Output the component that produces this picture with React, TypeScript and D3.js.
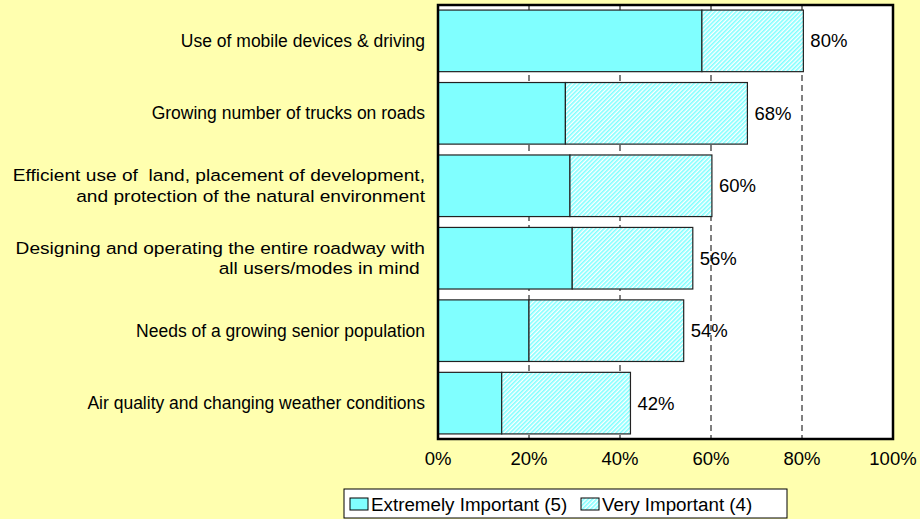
import React from "react";
import * as d3 from "d3";

const categories: string[][] = [
  ["Use of mobile devices & driving"],
  ["Growing number of trucks on roads"],
  ["Efficient use of  land, placement of development,", "and protection of the natural environment"],
  ["Designing and operating the entire roadway with", "all users/modes in mind "],
  ["Needs of a growing senior population"],
  ["Air quality and changing weather conditions"],
];
const extremely: number[] = [58, 28, 29, 29.5, 20, 14];
const very: number[] = [22.3, 40, 31.2, 26.5, 34, 28.3];
const totalLabels: string[] = ["80%", "68%", "60%", "56%", "54%", "42%"];
const xTicks: number[] = [0, 20, 40, 60, 80, 100];
const gridTicks: number[] = [20, 40, 60, 80];
const seriesNames: string[] = ["Extremely Important (5)", "Very Important (4)"];

const W = 920;
const H = 519;
const left = 438;
const right = 893;
const top = 5;
const bottom = 439;
const BG = "#FFFFAF";
const CYAN = "#80FFFF";
const FONT = "'Liberation Sans', Arial, Helvetica, sans-serif";

export default function App() {
  const x = d3.scaleLinear().domain([0, 100]).range([left, right]);
  const y = d3
    .scaleBand<number>()
    .domain(d3.range(categories.length))
    .range([top, bottom])
    .paddingInner(0.15)
    .paddingOuter(0.07);
  const bw = y.bandwidth();

  return (
    <svg
      width={W}
      height={H}
      style={{ position: "absolute", left: 0, top: 0, display: "block" }}
      xmlns="http://www.w3.org/2000/svg"
    >
      <defs>
        <pattern
          id="hatch"
          patternUnits="userSpaceOnUse"
          width={3}
          height={3}
          patternTransform="rotate(45)"
        >
          <rect width={3} height={3} fill="#ffffff" />
          <rect x={0} y={0} width={1.6} height={3} fill={CYAN} />
        </pattern>
      </defs>
      <rect x={0} y={0} width={W} height={H} fill={BG} />
      <rect x={left} y={top} width={right - left} height={bottom - top} fill="#ffffff" />

      {gridTicks.map((t) => (
        <line
          key={t}
          x1={x(t)}
          x2={x(t)}
          y1={top}
          y2={bottom}
          stroke="#000"
          strokeWidth={1}
          strokeDasharray="6,4"
        />
      ))}

      {categories.map((_, i) => {
        const yy = y(i)!;
        const e = extremely[i];
        const v = very[i];
        return (
          <g key={i}>
            <rect
              x={x(0)}
              y={yy}
              width={x(e) - x(0)}
              height={bw}
              fill={CYAN}
              stroke="#222"
              strokeWidth={1.2}
            />
            <rect
              x={x(e)}
              y={yy}
              width={x(e + v) - x(e)}
              height={bw}
              fill="url(#hatch)"
              stroke="#222"
              strokeWidth={1.2}
            />
            <text
              x={x(e + v) + 7}
              y={yy + bw / 2}
              dy="0.35em"
              fontFamily={FONT}
              fontSize={18.5}
              fill="#000"
            >
              {totalLabels[i]}
            </text>
          </g>
        );
      })}

      <rect
        x={left}
        y={top}
        width={right - left}
        height={bottom - top}
        fill="none"
        stroke="#000"
        strokeWidth={2.5}
      />

      {categories.map((lines, i) => {
        const cy = y(i)! + bw / 2;
        const lh = 21;
        const y0 = cy - ((lines.length - 1) * lh) / 2;
        const multi = lines.length > 1;
        const sx = multi ? 1.16 : 1;
        return (
          <g key={i} transform={`translate(425,0) scale(${sx},1)`}>
            <text
              textAnchor="end"
              fontFamily={FONT}
              fontSize={multi ? 16.5 : 17.5}
              fill="#000"
            >
              {lines.map((l, j) => (
                <tspan key={j} x={0} y={y0 + j * lh} dy="0.35em" style={{ whiteSpace: "pre" }}>
                  {l}
                </tspan>
              ))}
            </text>
          </g>
        );
      })}

      {xTicks.map((t) => (
        <text
          key={t}
          x={x(t)}
          y={459}
          dy="0.35em"
          textAnchor="middle"
          fontFamily={FONT}
          fontSize={18.5}
          fill="#000"
        >
          {t}%
        </text>
      ))}

      <g>
        <rect x={344} y={489} width={443} height={29} fill="#ffffff" stroke="#000" strokeWidth={1} />
        <rect x={350} y={498} width={18} height={12} fill={CYAN} stroke="#000" strokeWidth={1} />
        <text x={371} y={504} dy="0.35em" fontFamily={FONT} fontSize={18.8} fill="#000">
          {seriesNames[0]}
        </text>
        <rect x={581} y={498} width={18} height={12} fill="url(#hatch)" stroke="#000" strokeWidth={1} />
        <text x={602} y={504} dy="0.35em" fontFamily={FONT} fontSize={18.8} fill="#000">
          {seriesNames[1]}
        </text>
      </g>
    </svg>
  );
}
